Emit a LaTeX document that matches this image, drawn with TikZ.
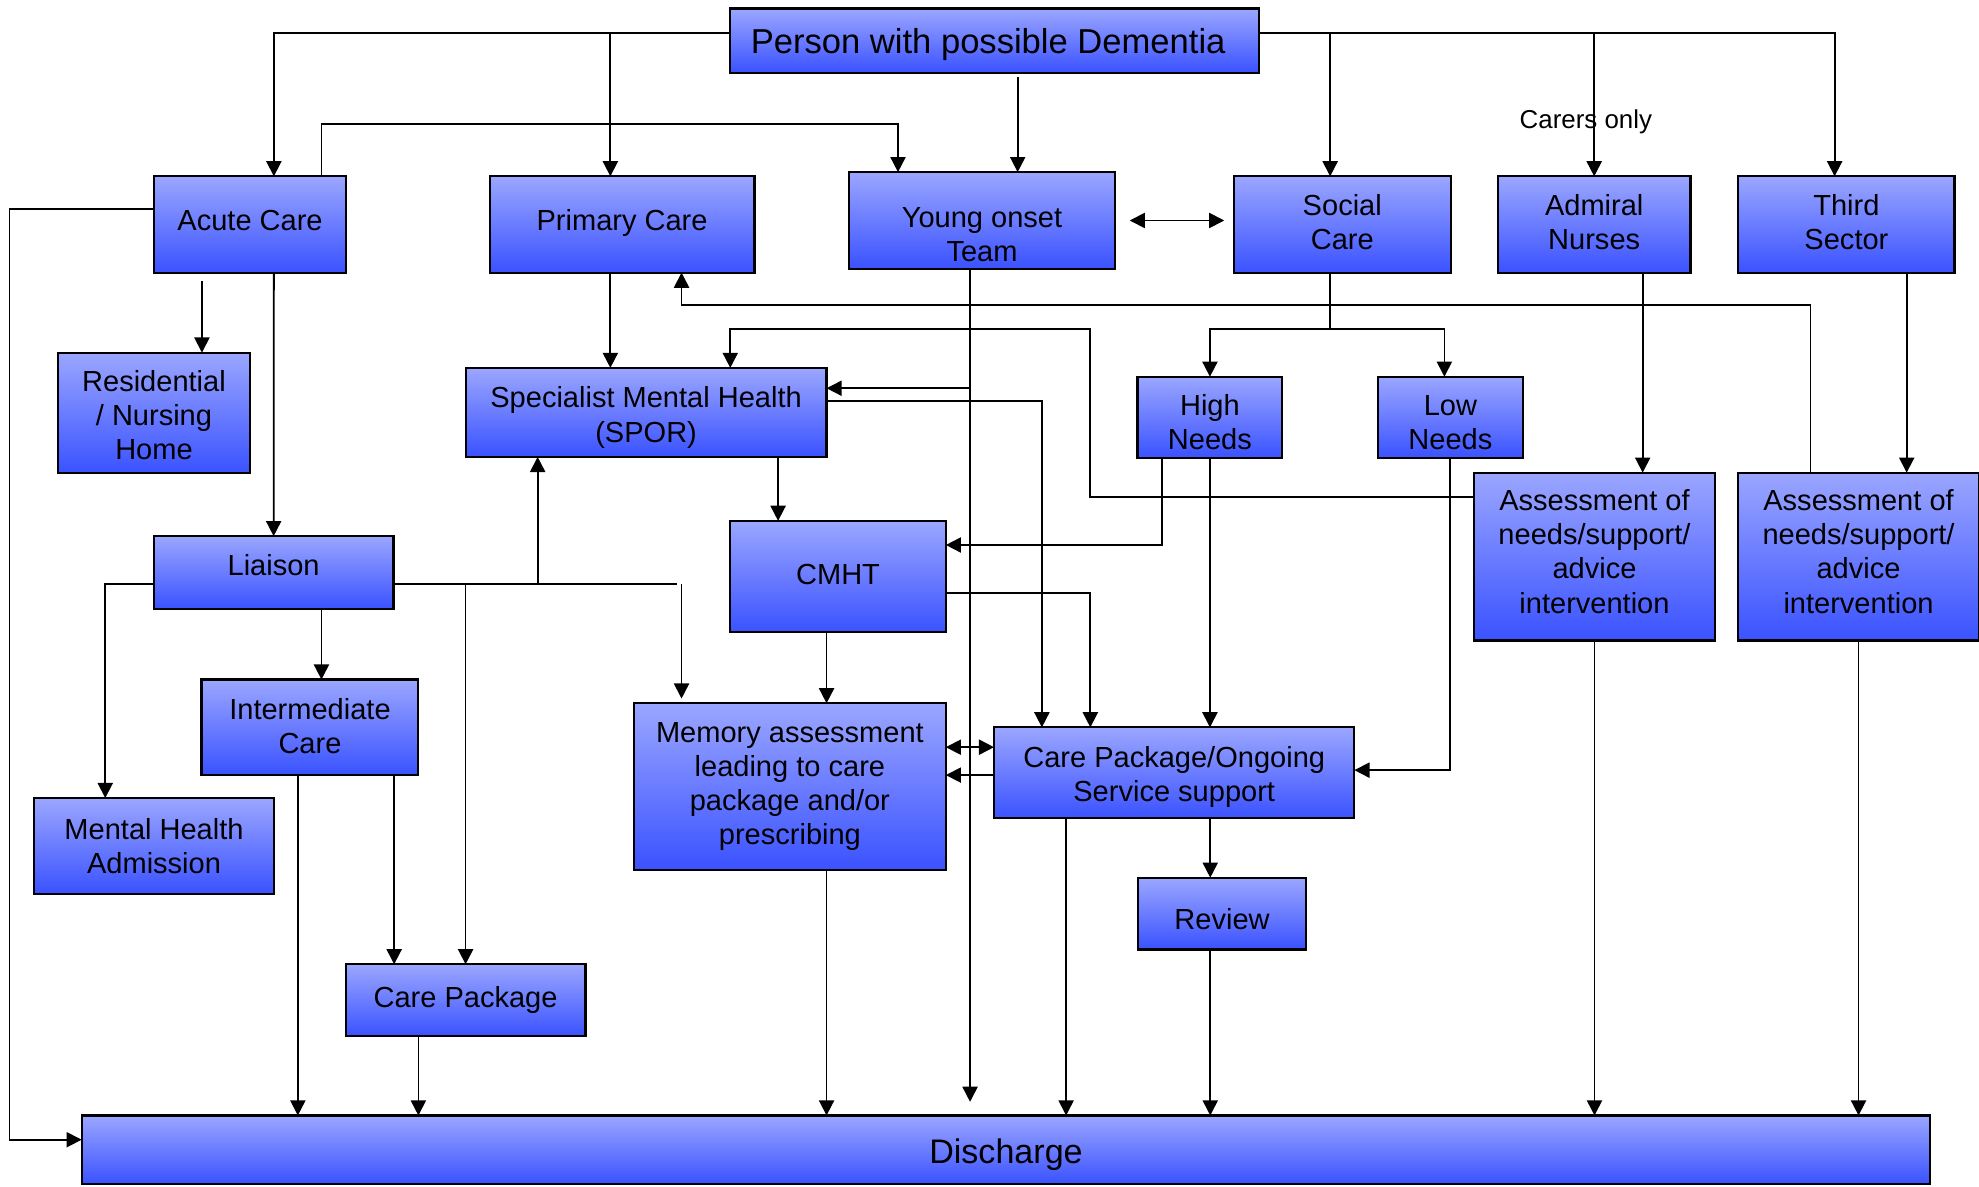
\documentclass[tikz,border=0pt]{standalone}
\usepackage{fontspec}
\setmainfont{Liberation Sans}
\usetikzlibrary{arrows.meta}
\definecolor{boxtop}{RGB}{155,166,255}
\definecolor{boxbot}{RGB}{58,82,255}
\tikzset{
 box/.style={rectangle, draw=black, line width=1.7pt, top color=boxtop, bottom color=boxbot, inner sep=0pt, outer sep=0pt},
 txt/.style={align=center, font=\fontsize{23}{27}\selectfont, inner sep=0pt, text=black},
 arr/.style={line width=1.4pt, -{Triangle[length=12pt,width=12pt]}},
 dbl/.style={line width=1.4pt, {Triangle[length=12pt,width=12pt]}-{Triangle[length=12pt,width=12pt]}},
 ln/.style={line width=1.4pt},
}
\newcommand\bx[8][]{%
 \pgfmathsetmacro\bxcx{(#3+#5)/2}%
 \pgfmathsetmacro\bxcy{(#4+#6)/2}%
 \pgfmathsetmacro\bxw{#5-#3}%
 \pgfmathsetmacro\bxh{#6-#4}%
 \pgfmathsetmacro\bxdy{-(#7)}%
 \node[box, minimum width=\bxw pt, minimum height=\bxh pt,
   label={[txt,#1,yshift=\bxdy pt]center:{#8}}] (#2) at (\bxcx,\bxcy) {};}
\begin{document}
\begin{tikzpicture}[x=1pt,y=-1pt]
\useasboundingbox (0,0) rectangle (1568,940);
% ---------------- boxes
\bx[font=\fontsize{27.4}{32}\selectfont,xshift=-5pt]{person}{578.6}{6.7}{997.3}{57.6}{3}{Person with possible Dementia}
\bx{acute}{121.8}{139.7}{274.4}{216}{-3}{Acute Care}
\bx{primary}{388}{139.7}{597.8}{216}{-1}{Primary Care}
\bx{young}{673}{136.4}{883.1}{213}{11}{Young onset\\Team}
\bx{social}{977.6}{139.7}{1149.4}{216}{-2}{Social\\Care}
\bx{admiral}{1186.8}{139.7}{1339.4}{216}{-2}{Admiral\\Nurses}
\bx{third}{1377.3}{139.7}{1548.6}{216}{-2}{Third\\Sector}
\bx{resid}{46}{279.4}{198}{375}{2}{Residential\\/ Nursing\\Home}
\bx{spor}{368.9}{291.5}{654.9}{362}{4}{Specialist Mental Health\\(SPOR)}
\bx{high}{901.3}{298.5}{1016}{363}{4}{High\\Needs}
\bx{low}{1091.8}{298.5}{1206.5}{363}{4}{Low\\Needs}
\bx{assess1}{1168.1}{374.5}{1358.6}{507.5}{-4}{Assessment of\\needs/support/\\advice\\intervention}
\bx{assess2}{1377.3}{374.5}{1567.8}{507.5}{-4}{Assessment of\\needs/support/\\advice\\intervention}
\bx{liaison}{121.8}{424.8}{311.8}{482.3}{-5.5}{Liaison}
\bx{cmht}{578.6}{412.7}{749.4}{501}{-2}{CMHT}
\bx{inter}{159.7}{538.4}{331.5}{614.1}{-1}{Intermediate\\Care}
\bx{mha}{26.8}{632.3}{217.3}{708.1}{0}{Mental Health\\Admission}
\bx{memory}{502.3}{557.2}{749.4}{689.6}{0}{Memory assessment\\leading to care\\package and/or\\prescribing}
\bx{cpo}{787.6}{576.3}{1073.1}{648.4}{3}{Care Package/Ongoing\\Service support}
\bx{review}{901.8}{695.4}{1034.7}{752.3}{4}{Review}
\bx{carepkg}{273.9}{764}{463.9}{821.1}{-0.5}{Care Package}
\bx[font=\fontsize{27}{32}\selectfont]{discharge}{64.7}{883.8}{1529.4}{938}{4}{Discharge}
\node[font=\fontsize{20.5}{24}\selectfont, inner sep=0pt] (carers) at (1256.5,96.8) {Carers only};
% ---------------- connectors from Person
\draw[arr] (person.west |- 0,26) -| (217,0 |- acute.north);
\draw[arr] (483.6,26) -- (483.6,0 |- primary.north);
\draw[arr] (person.east |- 0,26) -| (1453.6,0 |- third.north);
\draw[arr] (1053.9,26) -- (1053.9,0 |- social.north);
\draw[arr] (1263.1,26) -- (1263.1,0 |- admiral.north);
\draw[arr] (806.3,61) -- (806.3,0 |- young.north);
% Acute care
\draw[arr] (254.7,0 |- acute.north) -- (254.7,98.5) -| (711.5,0 |- young.north);
\draw[arr] (acute.west |- 0,165.8) -- (7.6,165.8) |- (discharge.west |- 0,903);
\draw[arr] (160,222.7) -- (160,0 |- resid.north);
\draw[arr] (217,0 |- acute.south) -- (liaison.north);
% Young onset <-> Social care
\draw[dbl] ([xshift=12pt]young.east) -- ([xshift=-7.6pt]social.west |- young.east);
% Primary / SPOR
\draw[arr] (483.6,0 |- primary.south) -- (483.6,0 |- spor.north);
\draw[arr] (1434.4,0 |- assess2.north) |- (540,241.8) -- (540,0 |- primary.south);
\draw[arr] (assess1.west |- 0,394) -| (863.4,260.6) -| (578.6,0 |- spor.north);
% Social care split
\draw[arr] (1053.9,0 |- social.south) -- (1053.9,260.6) -| (high.north);
\draw[arr] (1053.9,260.6) -| (1144.4,0 |- low.north);
% Young onset vertical
\draw[arr] (768.6,0 |- young.south) -- (768.6,873);
\draw[arr] (768.6,307.6) -- (spor.east |- 0,307.6);
% SPOR outputs
\draw[arr] (spor.east |- 0,317.6) -| (825.5,0 |- cpo.north);
\draw[arr] (616.5,0 |- spor.south) -- (616.5,0 |- cmht.north);
% High / Low needs
\draw[arr] (920.5,0 |- high.south) |- (cmht.east |- 0,431.8);
\draw[arr] (high.south) -- (high.south |- cpo.north);
\draw[arr] (low.south) |- (cpo.east |- 0,610.2);
% CMHT
\draw[arr] (cmht.east |- 0,469.7) -| (863.9,0 |- cpo.north);
\draw[arr] (654.9,0 |- cmht.south) -- (654.9,0 |- memory.north);
% Liaison bus
\draw[ln] (liaison.east |- 0,462.7) -- (536.6,462.7);
\draw[arr] (426,462.7) -- (426,0 |- spor.south);
\draw[arr] (368.9,462.7) -- (368.9,0 |- carepkg.north);
\draw[arr] (540,462.7) -- (540,553.5);
\draw[arr] (liaison.west |- 0,462.7) -| (83.4,0 |- mha.north);
\draw[arr] (254.7,0 |- liaison.south) -- (254.7,0 |- inter.north);
% Intermediate care
\draw[arr] (312.3,0 |- inter.south) -- (312.3,0 |- carepkg.north);
\draw[arr] (236,0 |- inter.south) -- (236,0 |- discharge.north);
\draw[arr] (331.5,0 |- carepkg.south) -- (331.5,0 |- discharge.north);
% Memory <-> CPO
\draw[arr] (654.9,0 |- memory.south) -- (654.9,0 |- discharge.north);
\draw[dbl] (memory.east |- 0,592) -- (cpo.west |- 0,592);
\draw[arr] (cpo.west |- 0,614.1) -- (memory.east |- 0,614.1);
% CPO / Review
\draw[arr] (844.7,0 |- cpo.south) -- (844.7,0 |- discharge.north);
\draw[arr] (958.9,0 |- cpo.south) -- (958.9,0 |- review.north);
\draw[arr] (958.9,0 |- review.south) -- (958.9,0 |- discharge.north);
% Admiral / Third sector
\draw[arr] (1301.5,0 |- admiral.south) -- (1301.5,0 |- assess1.north);
\draw[arr] (1510.7,0 |- third.south) -- (1510.7,0 |- assess2.north);
\draw[arr] (assess1.south) -- (assess1.south |- discharge.north);
\draw[arr] (assess2.south) -- (assess2.south |- discharge.north);
\end{tikzpicture}
\end{document}
